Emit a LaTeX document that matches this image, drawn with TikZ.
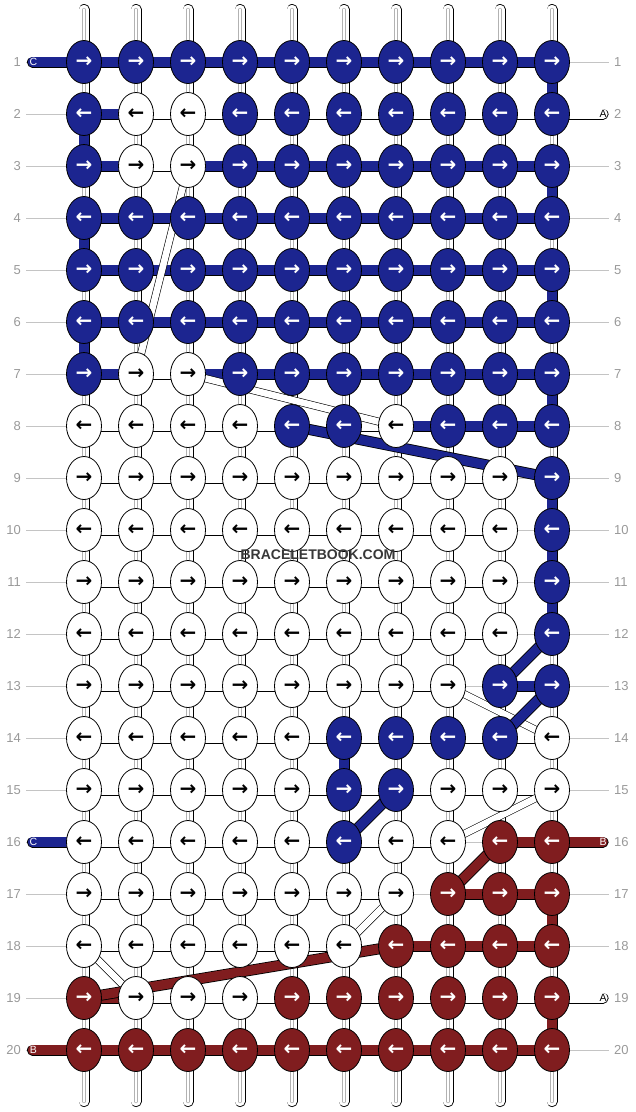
\documentclass[tikz,border=0pt]{standalone}
\usepackage{fontspec}
\setmainfont{Liberation Sans}
\newfontfamily\arrfont{DejaVu Sans}
\usetikzlibrary{shapes.geometric}
\definecolor{cblue}{HTML}{1C2590}
\definecolor{cred}{HTML}{801D1F}
\definecolor{numgray}{HTML}{999999}
\definecolor{linegray}{HTML}{C4C4C4}
\newcommand\arrR{→}
\newcommand\arrL{←}
\tikzset{
  knot/.style={ellipse, draw=black, line width=0.8pt, minimum width=35pt, minimum height=43pt, inner sep=0pt, font=\arrfont\bfseries\fontsize{20}{20}\selectfont},
  kw/.style={knot, fill=white, text=black},
  kb/.style={knot, fill=cblue, text=white},
  kr/.style={knot, fill=cred, text=white},
  bar/.style={line width=9.4pt, preaction={draw=black, line width=11pt}},
  endbar/.style={line cap=round, line width=9.4pt, preaction={draw=black, line width=11pt, line cap=round}},
  hw/.style={bar, draw=white},
  hb/.style={bar, draw=cblue},
  hr/.style={bar, draw=cred},
  hn/.style={draw=none},
  ew/.style={endbar, draw=white},
  eb/.style={endbar, draw=cblue},
  er/.style={endbar, draw=cred},
  grain/.style={postaction={draw=black!30, line width=3.2pt}, postaction={draw=white, line width=2.2pt}},
  vw/.style={hw, grain},
  vb/.style={hb},
  vr/.style={hr},
  post/.style={ew, grain},
  strw/.style={line width=6.6pt, draw=white, preaction={draw=black, line width=7.8pt}},
  strb/.style={hb},
  strr/.style={hr},
  rownum/.style={inner sep=0pt, text=numgray, font=\fontsize{13}{13}\selectfont},
  rowline/.style={draw=linegray, line width=0.8pt, shorten <=5pt, shorten >=5pt},
  endlbl/.style={inner sep=0pt, font=\fontsize{10.5}{10.5}\selectfont},
  wmark/.style={inner sep=0pt, text=black!78, font=\bfseries\fontsize{14}{14}\selectfont}
}
\begin{document}
\begin{tikzpicture}[x=1pt,y=-1pt]
\useasboundingbox (0,0) rectangle (636,1112);
\foreach \r in {1,...,20}
  \foreach \c in {1,...,10}
    \coordinate (p-\r-\c) at ({32+52*\c},{10+52*\r});

\foreach \r in {1,...,20} {
  \node[rownum, anchor=east] (ln-\r) at (21,{10+52*\r}) {\r};
  \node[rownum, anchor=west] (rn-\r) at (614,{10+52*\r}) {\r};
  \draw[rowline] (ln-\r) -- (rn-\r);
}

\foreach \c in {1,...,10} {
  \coordinate (top-\c) at ({32+52*\c},9.5);
  \coordinate (bot-\c) at ({32+52*\c},1101.5);
  \draw[post] (top-\c) -- (p-1-\c);
  \draw[post] (p-20-\c) -- (bot-\c);
}

\foreach \r/\vs in {
  1/{w,w,w,w,w,w,w,w,w,b}, 2/{b,w,w,w,w,w,w,w,w,w}, 3/{w,w,w,w,w,w,w,w,w,b},
  4/{b,w,w,w,w,w,w,w,w,w}, 5/{w,w,w,w,w,w,w,w,w,b}, 6/{b,w,w,w,w,w,w,w,w,w},
  7/{w,w,w,w,w,w,w,w,w,b}, 8/{w,w,w,w,w,w,w,w,w,w}, 9/{w,w,w,w,w,w,w,w,w,b},
  10/{w,w,w,w,w,w,w,w,w,b}, 11/{w,w,w,w,w,w,w,w,w,b}, 12/{w,w,w,w,w,w,w,w,w,w},
  13/{w,w,w,w,w,w,w,w,w,w}, 14/{w,w,w,w,w,b,w,w,w,w}, 15/{w,w,w,w,w,w,w,w,w,w},
  16/{w,w,w,w,w,w,w,w,w,w}, 17/{w,w,w,w,w,w,w,w,w,r}, 18/{w,w,w,w,w,w,w,w,w,w},
  19/{w,w,w,w,w,w,w,w,w,r}} {
  \pgfmathtruncatemacro\n{\r+1}
  \foreach \v [count=\c] in \vs
    \draw[v\v] (p-\r-\c) -- (p-\n-\c);
}

\foreach \r/\hs in {
  1/{b,b,b,b,b,b,b,b,b}, 2/{b,w,w,w,w,w,w,w,w}, 3/{b,w,b,b,b,b,b,b,b},
  4/{b,b,b,b,b,b,b,b,b}, 5/{b,b,b,b,b,b,b,b,b}, 6/{b,b,b,b,b,b,b,b,b},
  7/{b,w,b,b,b,b,b,b,b}, 8/{w,w,w,w,w,w,b,b,b}, 9/{w,w,w,w,w,w,w,w,n},
  10/{w,w,w,w,w,w,w,w,n}, 11/{w,w,w,w,w,w,w,w,n}, 12/{w,w,w,w,w,w,w,w,n},
  13/{w,w,w,w,w,w,w,n,b}, 14/{w,w,w,w,w,w,w,w,w}, 15/{w,w,w,w,w,w,w,w,w},
  16/{w,w,w,w,w,w,w,n,r}, 17/{w,w,w,w,w,w,n,r,r}, 18/{w,w,w,w,w,w,r,r,r},
  19/{r,w,w,w,w,w,w,w,w}, 20/{r,r,r,r,r,r,r,r,r}} {
  \foreach \h [count=\c] in \hs {
    \pgfmathtruncatemacro\d{\c+1}
    \draw[h\h] (p-\r-\c) -- (p-\r-\d);
  }
}

\coordinate (end-1) at (32.5,62);
\coordinate (end-2) at (603,114);
\coordinate (end-16l) at (32.5,842);
\coordinate (end-16r) at (603,842);
\coordinate (end-19) at (603,998);
\coordinate (end-20) at (32.5,1050);
\draw[eb] (p-1-1) -- (end-1);
\draw[ew] (p-2-10) -- (end-2);
\draw[eb] (p-16-1) -- (end-16l);
\draw[er] (p-16-10) -- (end-16r);
\draw[ew] (p-19-10) -- (end-19);
\draw[er] (p-20-1) -- (end-20);
\node[endlbl, text=white, xshift=1pt] (tc-1) at (end-1) {C};
\node[endlbl, text=black] (ta-2) at (end-2) {A};
\node[endlbl, text=white, xshift=1pt] (tc-16) at (end-16l) {C};
\node[endlbl, text=white] (tb-16) at (end-16r) {B};
\node[endlbl, text=black] (ta-19) at (end-19) {A};
\node[endlbl, text=white, xshift=1pt] (tb-20) at (end-20) {B};

\foreach \a/\b/\s in {3-3/7-2/strw, 7-3/8-7/strw, 13-8/14-10/strw, 15-10/16-8/strw,
  17-7/18-6/strw, 18-1/19-2/strw, 8-5/9-10/strb, 13-9/12-10/strb, 13-10/14-9/strb,
  15-7/16-6/strb, 16-9/17-8/strr, 18-7/19-1/strr}
  \draw[\s] (p-\a) -- (p-\b);

\foreach \r/\ks in {
  1/{b,b,b,b,b,b,b,b,b,b}, 2/{b,w,w,b,b,b,b,b,b,b}, 3/{b,w,w,b,b,b,b,b,b,b},
  4/{b,b,b,b,b,b,b,b,b,b}, 5/{b,b,b,b,b,b,b,b,b,b}, 6/{b,b,b,b,b,b,b,b,b,b},
  7/{b,w,w,b,b,b,b,b,b,b}, 8/{w,w,w,w,b,b,w,b,b,b}, 9/{w,w,w,w,w,w,w,w,w,b},
  10/{w,w,w,w,w,w,w,w,w,b}, 11/{w,w,w,w,w,w,w,w,w,b}, 12/{w,w,w,w,w,w,w,w,w,b},
  13/{w,w,w,w,w,w,w,w,b,b}, 14/{w,w,w,w,w,b,b,b,b,w}, 15/{w,w,w,w,w,b,b,w,w,w},
  16/{w,w,w,w,w,b,w,w,r,r}, 17/{w,w,w,w,w,w,w,r,r,r}, 18/{w,w,w,w,w,w,r,r,r,r},
  19/{r,w,w,w,r,r,r,r,r,r}, 20/{r,r,r,r,r,r,r,r,r,r}}
  \foreach \k [count=\c] in \ks
    \node[k\k] (k-\r-\c) at (p-\r-\c) {\ifodd\r\relax\arrR\else\arrL\fi};

\node[wmark] (wm) at (318,555) {BRACELETBOOK.COM};
\end{tikzpicture}
\end{document}
